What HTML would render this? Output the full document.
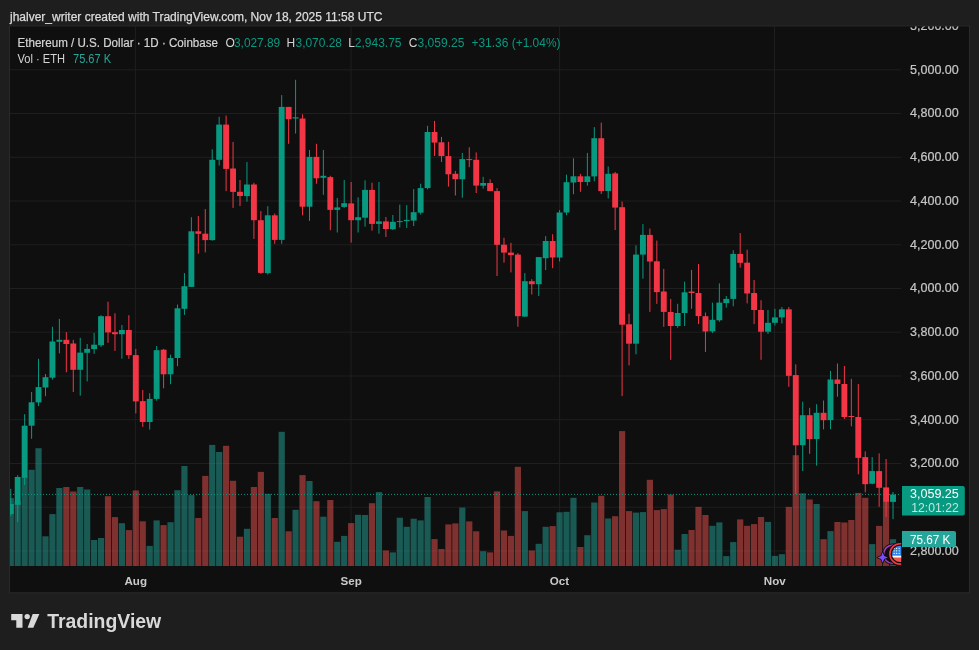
<!DOCTYPE html>
<html lang="en"><head><meta charset="utf-8"><title>ETHUSD chart</title>
<style>
html,body{margin:0;padding:0;background:#1e1e1e;}
body{width:979px;height:650px;overflow:hidden;position:relative;font-family:"Liberation Sans",sans-serif;}
svg{position:absolute;left:0;top:0;display:block}
svg text{font-family:"Liberation Sans",sans-serif;}
</style></head><body>
<svg width="979" height="650" viewBox="0 0 979 650">
<defs>
<clipPath id="plot"><rect x="10" y="26.4" width="891.2" height="539.6"/></clipPath>
<clipPath id="box"><rect x="10" y="26.4" width="959" height="566"/></clipPath>
</defs>
<rect x="0" y="0" width="979" height="650" fill="#1e1e1e"/>
<rect x="9.5" y="25.9" width="960" height="566.9" fill="#0f0f0f" stroke="#2a2a2a" stroke-width="1"/>
<g clip-path="url(#plot)">
<g stroke="#1f1f1f" stroke-width="1"><line x1="10" x2="901" y1="550.9" y2="550.9"/><line x1="10" x2="901" y1="507.2" y2="507.2"/><line x1="10" x2="901" y1="463.5" y2="463.5"/><line x1="10" x2="901" y1="419.7" y2="419.7"/><line x1="10" x2="901" y1="376.0" y2="376.0"/><line x1="10" x2="901" y1="332.2" y2="332.2"/><line x1="10" x2="901" y1="288.5" y2="288.5"/><line x1="10" x2="901" y1="244.8" y2="244.8"/><line x1="10" x2="901" y1="201.0" y2="201.0"/><line x1="10" x2="901" y1="157.3" y2="157.3"/><line x1="10" x2="901" y1="113.5" y2="113.5"/><line x1="10" x2="901" y1="69.8" y2="69.8"/><line x1="10" x2="901" y1="26.1" y2="26.1"/><line x1="135.4" x2="135.4" y1="26" y2="566"/><line x1="351.0" x2="351.0" y1="26" y2="566"/><line x1="559.6" x2="559.6" y1="26" y2="566"/><line x1="774.5" x2="774.5" y1="26" y2="566"/></g>
<g fill="#26a69a" fill-opacity="0.5"><rect x="7.65" y="498.1" width="6.2" height="67.9"/><rect x="14.60" y="501.6" width="6.2" height="64.4"/><rect x="21.55" y="476.5" width="6.2" height="89.5"/><rect x="28.50" y="469.8" width="6.2" height="96.2"/><rect x="35.44" y="448.2" width="6.2" height="117.8"/><rect x="42.39" y="536.3" width="6.2" height="29.7"/><rect x="49.34" y="514.1" width="6.2" height="51.9"/><rect x="56.28" y="488.0" width="6.2" height="78.0"/><rect x="77.12" y="487.0" width="6.2" height="79.0"/><rect x="84.07" y="489.5" width="6.2" height="76.5"/><rect x="91.02" y="540.0" width="6.2" height="26.0"/><rect x="97.97" y="538.0" width="6.2" height="28.0"/><rect x="118.81" y="523.2" width="6.2" height="42.8"/><rect x="146.59" y="545.9" width="6.2" height="20.1"/><rect x="153.54" y="520.4" width="6.2" height="45.6"/><rect x="167.44" y="522.2" width="6.2" height="43.8"/><rect x="174.38" y="490.2" width="6.2" height="75.8"/><rect x="181.33" y="466.0" width="6.2" height="100.0"/><rect x="188.28" y="495.1" width="6.2" height="70.9"/><rect x="209.12" y="444.9" width="6.2" height="121.1"/><rect x="216.06" y="452.0" width="6.2" height="114.0"/><rect x="243.85" y="528.8" width="6.2" height="37.2"/><rect x="264.69" y="493.8" width="6.2" height="72.2"/><rect x="278.59" y="431.8" width="6.2" height="134.2"/><rect x="292.48" y="509.8" width="6.2" height="56.2"/><rect x="306.38" y="481.0" width="6.2" height="85.0"/><rect x="320.27" y="516.7" width="6.2" height="49.3"/><rect x="334.16" y="541.8" width="6.2" height="24.2"/><rect x="341.11" y="535.9" width="6.2" height="30.1"/><rect x="355.00" y="514.8" width="6.2" height="51.2"/><rect x="361.95" y="515.0" width="6.2" height="51.0"/><rect x="375.85" y="492.1" width="6.2" height="73.9"/><rect x="389.74" y="552.4" width="6.2" height="13.6"/><rect x="396.69" y="517.7" width="6.2" height="48.3"/><rect x="403.63" y="526.8" width="6.2" height="39.2"/><rect x="410.58" y="518.7" width="6.2" height="47.3"/><rect x="417.53" y="520.4" width="6.2" height="45.6"/><rect x="424.47" y="497.0" width="6.2" height="69.0"/><rect x="459.21" y="507.6" width="6.2" height="58.4"/><rect x="480.05" y="551.2" width="6.2" height="14.8"/><rect x="521.73" y="511.1" width="6.2" height="54.9"/><rect x="535.63" y="543.8" width="6.2" height="22.2"/><rect x="542.57" y="526.8" width="6.2" height="39.2"/><rect x="556.47" y="512.3" width="6.2" height="53.7"/><rect x="563.41" y="511.8" width="6.2" height="54.2"/><rect x="570.36" y="497.8" width="6.2" height="68.2"/><rect x="584.25" y="535.2" width="6.2" height="30.8"/><rect x="591.20" y="502.5" width="6.2" height="63.5"/><rect x="605.10" y="518.5" width="6.2" height="47.5"/><rect x="632.88" y="512.6" width="6.2" height="53.4"/><rect x="639.83" y="512.1" width="6.2" height="53.9"/><rect x="674.57" y="549.7" width="6.2" height="16.3"/><rect x="681.51" y="534.0" width="6.2" height="32.0"/><rect x="709.30" y="525.8" width="6.2" height="40.2"/><rect x="716.25" y="522.4" width="6.2" height="43.6"/><rect x="723.20" y="556.1" width="6.2" height="9.9"/><rect x="730.14" y="542.1" width="6.2" height="23.9"/><rect x="764.88" y="521.9" width="6.2" height="44.1"/><rect x="771.82" y="555.9" width="6.2" height="10.1"/><rect x="778.77" y="554.2" width="6.2" height="11.8"/><rect x="799.61" y="493.4" width="6.2" height="72.6"/><rect x="813.51" y="504.0" width="6.2" height="62.0"/><rect x="827.40" y="531.1" width="6.2" height="34.9"/><rect x="869.08" y="544.1" width="6.2" height="21.9"/><rect x="889.92" y="539.2" width="6.2" height="26.8"/></g>
<g fill="#ef5350" fill-opacity="0.5"><rect x="63.23" y="487.0" width="6.2" height="79.0"/><rect x="70.18" y="491.5" width="6.2" height="74.5"/><rect x="104.91" y="496.2" width="6.2" height="69.8"/><rect x="111.86" y="517.1" width="6.2" height="48.9"/><rect x="125.75" y="530.1" width="6.2" height="35.9"/><rect x="132.70" y="490.5" width="6.2" height="75.5"/><rect x="139.65" y="521.3" width="6.2" height="44.7"/><rect x="160.49" y="525.1" width="6.2" height="40.9"/><rect x="195.22" y="518.0" width="6.2" height="48.0"/><rect x="202.17" y="475.9" width="6.2" height="90.1"/><rect x="223.01" y="445.8" width="6.2" height="120.2"/><rect x="229.96" y="480.8" width="6.2" height="85.2"/><rect x="236.91" y="536.7" width="6.2" height="29.3"/><rect x="250.80" y="487.0" width="6.2" height="79.0"/><rect x="257.75" y="471.9" width="6.2" height="94.1"/><rect x="271.64" y="518.0" width="6.2" height="48.0"/><rect x="285.53" y="531.3" width="6.2" height="34.7"/><rect x="299.43" y="475.1" width="6.2" height="90.9"/><rect x="313.32" y="501.2" width="6.2" height="64.8"/><rect x="327.22" y="500.0" width="6.2" height="66.0"/><rect x="348.06" y="523.1" width="6.2" height="42.9"/><rect x="368.90" y="503.2" width="6.2" height="62.8"/><rect x="382.79" y="550.5" width="6.2" height="15.5"/><rect x="431.42" y="539.1" width="6.2" height="26.9"/><rect x="438.37" y="549.0" width="6.2" height="17.0"/><rect x="445.31" y="524.4" width="6.2" height="41.6"/><rect x="452.26" y="523.4" width="6.2" height="42.6"/><rect x="466.16" y="521.4" width="6.2" height="44.6"/><rect x="473.10" y="531.3" width="6.2" height="34.7"/><rect x="487.00" y="552.4" width="6.2" height="13.6"/><rect x="493.94" y="491.4" width="6.2" height="74.6"/><rect x="500.89" y="530.5" width="6.2" height="35.5"/><rect x="507.84" y="535.9" width="6.2" height="30.1"/><rect x="514.78" y="466.8" width="6.2" height="99.2"/><rect x="528.68" y="550.5" width="6.2" height="15.5"/><rect x="549.52" y="526.1" width="6.2" height="39.9"/><rect x="577.31" y="547.0" width="6.2" height="19.0"/><rect x="598.15" y="495.8" width="6.2" height="70.2"/><rect x="612.04" y="516.2" width="6.2" height="49.8"/><rect x="618.99" y="431.1" width="6.2" height="134.9"/><rect x="625.94" y="511.1" width="6.2" height="54.9"/><rect x="646.78" y="479.8" width="6.2" height="86.2"/><rect x="653.73" y="510.1" width="6.2" height="55.9"/><rect x="660.67" y="509.1" width="6.2" height="56.9"/><rect x="667.62" y="494.6" width="6.2" height="71.4"/><rect x="688.46" y="530.0" width="6.2" height="36.0"/><rect x="695.41" y="506.9" width="6.2" height="59.1"/><rect x="702.35" y="515.0" width="6.2" height="51.0"/><rect x="737.09" y="519.4" width="6.2" height="46.6"/><rect x="744.04" y="525.8" width="6.2" height="40.2"/><rect x="750.98" y="524.1" width="6.2" height="41.9"/><rect x="757.93" y="517.0" width="6.2" height="49.0"/><rect x="785.72" y="506.9" width="6.2" height="59.1"/><rect x="792.67" y="455.2" width="6.2" height="110.8"/><rect x="806.56" y="499.5" width="6.2" height="66.5"/><rect x="820.45" y="539.2" width="6.2" height="26.8"/><rect x="834.35" y="522.0" width="6.2" height="44.0"/><rect x="841.29" y="522.5" width="6.2" height="43.5"/><rect x="848.24" y="520.0" width="6.2" height="46.0"/><rect x="855.19" y="492.9" width="6.2" height="73.1"/><rect x="862.14" y="497.8" width="6.2" height="68.2"/><rect x="876.03" y="525.9" width="6.2" height="40.1"/><rect x="882.98" y="502.0" width="6.2" height="64.0"/></g>
<line x1="10" x2="901" y1="494.4" y2="494.4" stroke="#089981" stroke-width="1" stroke-dasharray="1 2"/>
<g fill="#089981"><rect x="10.25" y="488.8" width="1" height="27.1"/><rect x="7.80" y="504.0" width="5.9" height="10.1"/><rect x="17.20" y="475.2" width="1" height="46.8"/><rect x="14.75" y="477.0" width="5.9" height="27.8"/><rect x="24.15" y="414.2" width="1" height="70.9"/><rect x="21.70" y="425.7" width="5.9" height="52.0"/><rect x="31.10" y="392.0" width="1" height="46.8"/><rect x="28.65" y="402.3" width="5.9" height="23.4"/><rect x="38.04" y="358.8" width="1" height="47.3"/><rect x="35.59" y="387.1" width="5.9" height="15.3"/><rect x="44.99" y="374.0" width="1" height="22.2"/><rect x="42.54" y="377.2" width="5.9" height="10.3"/><rect x="51.94" y="326.8" width="1" height="52.9"/><rect x="49.49" y="341.5" width="5.9" height="36.2"/><rect x="58.88" y="318.9" width="1" height="34.5"/><rect x="56.43" y="339.8" width="5.9" height="2.0"/><rect x="79.72" y="337.8" width="1" height="57.8"/><rect x="77.27" y="352.6" width="5.9" height="17.2"/><rect x="86.67" y="344.0" width="1" height="37.4"/><rect x="84.22" y="348.9" width="5.9" height="3.9"/><rect x="93.62" y="332.9" width="1" height="20.9"/><rect x="91.17" y="344.7" width="5.9" height="4.4"/><rect x="100.57" y="315.2" width="1" height="31.8"/><rect x="98.12" y="316.2" width="5.9" height="29.0"/><rect x="121.41" y="325.0" width="1" height="33.7"/><rect x="118.96" y="330.0" width="5.9" height="4.2"/><rect x="149.19" y="393.2" width="1" height="36.4"/><rect x="146.74" y="398.9" width="5.9" height="23.1"/><rect x="156.14" y="346.0" width="1" height="54.6"/><rect x="153.69" y="350.2" width="5.9" height="48.7"/><rect x="170.04" y="354.6" width="1" height="29.6"/><rect x="167.59" y="358.0" width="5.9" height="16.3"/><rect x="176.98" y="304.6" width="1" height="61.6"/><rect x="174.53" y="308.3" width="5.9" height="49.7"/><rect x="183.93" y="273.1" width="1" height="41.8"/><rect x="181.48" y="286.2" width="5.9" height="22.6"/><rect x="190.88" y="217.2" width="1" height="69.7"/><rect x="188.43" y="231.3" width="5.9" height="55.6"/><rect x="211.72" y="149.3" width="1" height="91.4"/><rect x="209.27" y="159.8" width="5.9" height="80.3"/><rect x="218.66" y="116.8" width="1" height="48.7"/><rect x="216.21" y="124.6" width="5.9" height="35.2"/><rect x="246.45" y="162.1" width="1" height="39.6"/><rect x="244.00" y="184.5" width="5.9" height="11.6"/><rect x="267.29" y="206.2" width="1" height="68.4"/><rect x="264.84" y="215.3" width="5.9" height="57.8"/><rect x="281.19" y="95.1" width="1" height="148.7"/><rect x="278.74" y="106.9" width="5.9" height="133.0"/><rect x="295.08" y="79.8" width="1" height="53.7"/><rect x="292.63" y="117.3" width="5.9" height="1.2"/><rect x="308.98" y="150.0" width="1" height="70.9"/><rect x="306.53" y="156.9" width="5.9" height="49.8"/><rect x="322.87" y="150.0" width="1" height="44.8"/><rect x="320.42" y="175.8" width="5.9" height="2.0"/><rect x="336.76" y="198.0" width="1" height="34.5"/><rect x="334.31" y="207.4" width="5.9" height="2.5"/><rect x="343.71" y="180.0" width="1" height="27.8"/><rect x="341.26" y="203.2" width="5.9" height="3.7"/><rect x="357.60" y="197.3" width="1" height="35.2"/><rect x="355.15" y="217.2" width="5.9" height="3.0"/><rect x="364.55" y="180.3" width="1" height="46.3"/><rect x="362.10" y="189.9" width="5.9" height="27.8"/><rect x="378.45" y="182.0" width="1" height="51.7"/><rect x="376.00" y="221.4" width="5.9" height="2.5"/><rect x="392.34" y="215.0" width="1" height="15.0"/><rect x="389.89" y="221.8" width="5.9" height="7.4"/><rect x="399.29" y="204.6" width="1" height="22.9"/><rect x="396.84" y="221.1" width="5.9" height="1.0"/><rect x="406.23" y="205.1" width="1" height="22.9"/><rect x="403.78" y="219.9" width="5.9" height="1.2"/><rect x="413.18" y="189.1" width="1" height="36.9"/><rect x="410.73" y="212.2" width="5.9" height="8.4"/><rect x="420.13" y="183.7" width="1" height="30.8"/><rect x="417.68" y="188.1" width="5.9" height="24.6"/><rect x="427.07" y="125.8" width="1" height="63.5"/><rect x="424.62" y="132.0" width="5.9" height="56.1"/><rect x="461.81" y="152.9" width="1" height="44.8"/><rect x="459.36" y="159.1" width="5.9" height="20.2"/><rect x="482.65" y="176.8" width="1" height="11.8"/><rect x="480.20" y="183.0" width="5.9" height="2.7"/><rect x="524.33" y="273.1" width="1" height="43.6"/><rect x="521.88" y="281.2" width="5.9" height="35.4"/><rect x="538.23" y="257.1" width="1" height="38.9"/><rect x="535.78" y="257.1" width="5.9" height="27.1"/><rect x="545.17" y="236.1" width="1" height="34.0"/><rect x="542.72" y="241.0" width="5.9" height="17.2"/><rect x="559.07" y="210.0" width="1" height="51.5"/><rect x="556.62" y="212.5" width="5.9" height="45.0"/><rect x="566.01" y="174.6" width="1" height="40.6"/><rect x="563.56" y="182.2" width="5.9" height="30.3"/><rect x="572.96" y="158.3" width="1" height="35.9"/><rect x="570.51" y="176.3" width="5.9" height="6.2"/><rect x="586.86" y="152.9" width="1" height="32.7"/><rect x="584.40" y="176.3" width="5.9" height="5.7"/><rect x="593.80" y="127.1" width="1" height="54.2"/><rect x="591.35" y="138.2" width="5.9" height="38.2"/><rect x="607.70" y="166.5" width="1" height="32.0"/><rect x="605.25" y="173.8" width="5.9" height="17.2"/><rect x="635.48" y="245.3" width="1" height="109.0"/><rect x="633.03" y="254.6" width="5.9" height="89.1"/><rect x="642.43" y="224.1" width="1" height="54.6"/><rect x="639.98" y="234.9" width="5.9" height="19.7"/><rect x="677.17" y="303.8" width="1" height="23.9"/><rect x="674.72" y="313.0" width="5.9" height="13.0"/><rect x="684.11" y="281.7" width="1" height="44.3"/><rect x="681.66" y="292.3" width="5.9" height="20.7"/><rect x="711.90" y="302.6" width="1" height="30.3"/><rect x="709.45" y="319.8" width="5.9" height="11.6"/><rect x="718.85" y="283.4" width="1" height="38.4"/><rect x="716.40" y="302.6" width="5.9" height="17.7"/><rect x="725.80" y="296.0" width="1" height="11.6"/><rect x="723.35" y="298.9" width="5.9" height="4.2"/><rect x="732.74" y="250.2" width="1" height="56.1"/><rect x="730.29" y="253.9" width="5.9" height="45.0"/><rect x="767.48" y="310.0" width="1" height="23.9"/><rect x="765.03" y="322.8" width="5.9" height="8.9"/><rect x="774.42" y="308.8" width="1" height="16.7"/><rect x="771.97" y="317.4" width="5.9" height="5.4"/><rect x="781.37" y="307.0" width="1" height="16.5"/><rect x="778.92" y="309.3" width="5.9" height="8.1"/><rect x="802.21" y="401.7" width="1" height="69.4"/><rect x="799.76" y="415.2" width="5.9" height="30.0"/><rect x="816.11" y="404.2" width="1" height="61.5"/><rect x="813.66" y="412.8" width="5.9" height="26.3"/><rect x="830.00" y="370.9" width="1" height="58.3"/><rect x="827.55" y="379.5" width="5.9" height="40.6"/><rect x="871.68" y="457.1" width="1" height="27.1"/><rect x="869.23" y="471.1" width="5.9" height="12.6"/><rect x="892.52" y="492.0" width="1" height="27.2"/><rect x="890.07" y="494.5" width="5.9" height="7.4"/></g>
<g fill="#f23645"><rect x="65.83" y="332.2" width="1" height="40.1"/><rect x="63.38" y="339.8" width="5.9" height="4.2"/><rect x="72.78" y="339.8" width="1" height="52.2"/><rect x="70.33" y="343.5" width="5.9" height="26.3"/><rect x="107.51" y="301.7" width="1" height="41.1"/><rect x="105.06" y="316.2" width="5.9" height="16.2"/><rect x="114.46" y="313.2" width="1" height="37.7"/><rect x="112.01" y="332.2" width="5.9" height="2.0"/><rect x="128.35" y="315.2" width="1" height="43.6"/><rect x="125.90" y="330.0" width="5.9" height="25.1"/><rect x="135.30" y="348.9" width="1" height="64.5"/><rect x="132.85" y="355.1" width="5.9" height="46.3"/><rect x="142.25" y="390.0" width="1" height="36.9"/><rect x="139.80" y="401.1" width="5.9" height="20.9"/><rect x="163.09" y="348.9" width="1" height="39.4"/><rect x="160.64" y="349.7" width="5.9" height="24.6"/><rect x="197.82" y="216.0" width="1" height="37.7"/><rect x="195.37" y="231.3" width="5.9" height="2.5"/><rect x="204.77" y="209.1" width="1" height="43.3"/><rect x="202.32" y="233.7" width="5.9" height="6.4"/><rect x="225.61" y="115.5" width="1" height="75.6"/><rect x="223.16" y="124.6" width="5.9" height="44.3"/><rect x="232.56" y="141.9" width="1" height="66.0"/><rect x="230.11" y="168.5" width="5.9" height="23.4"/><rect x="239.50" y="180.0" width="1" height="26.1"/><rect x="237.06" y="191.8" width="5.9" height="4.2"/><rect x="253.40" y="182.7" width="1" height="56.2"/><rect x="250.95" y="184.5" width="5.9" height="35.7"/><rect x="260.35" y="211.1" width="1" height="62.8"/><rect x="257.90" y="220.2" width="5.9" height="52.7"/><rect x="274.24" y="213.5" width="1" height="30.3"/><rect x="271.79" y="215.3" width="5.9" height="24.6"/><rect x="288.13" y="106.9" width="1" height="36.9"/><rect x="285.68" y="106.9" width="5.9" height="12.3"/><rect x="302.03" y="114.3" width="1" height="101.0"/><rect x="299.58" y="118.5" width="5.9" height="88.2"/><rect x="315.92" y="143.8" width="1" height="39.9"/><rect x="313.47" y="156.9" width="5.9" height="21.4"/><rect x="329.82" y="175.8" width="1" height="54.4"/><rect x="327.37" y="177.1" width="5.9" height="32.8"/><rect x="350.66" y="182.0" width="1" height="60.6"/><rect x="348.21" y="203.4" width="5.9" height="16.8"/><rect x="371.50" y="182.7" width="1" height="48.0"/><rect x="369.05" y="189.9" width="5.9" height="34.0"/><rect x="385.39" y="217.0" width="1" height="20.0"/><rect x="382.94" y="221.4" width="5.9" height="7.6"/><rect x="434.02" y="120.9" width="1" height="35.0"/><rect x="431.57" y="132.0" width="5.9" height="10.6"/><rect x="440.97" y="136.9" width="1" height="25.1"/><rect x="438.52" y="142.3" width="5.9" height="13.8"/><rect x="447.92" y="141.8" width="1" height="44.8"/><rect x="445.47" y="156.1" width="5.9" height="18.2"/><rect x="454.86" y="170.9" width="1" height="24.6"/><rect x="452.41" y="173.8" width="5.9" height="5.4"/><rect x="468.76" y="147.3" width="1" height="19.9"/><rect x="466.31" y="159.1" width="5.9" height="1.0"/><rect x="475.70" y="152.4" width="1" height="40.6"/><rect x="473.25" y="159.8" width="5.9" height="25.8"/><rect x="489.60" y="179.3" width="1" height="11.8"/><rect x="487.15" y="183.0" width="5.9" height="8.1"/><rect x="496.54" y="188.1" width="1" height="87.9"/><rect x="494.09" y="191.1" width="5.9" height="53.7"/><rect x="503.49" y="237.8" width="1" height="24.9"/><rect x="501.04" y="244.7" width="5.9" height="7.9"/><rect x="510.44" y="242.8" width="1" height="29.6"/><rect x="507.99" y="252.6" width="5.9" height="2.5"/><rect x="517.38" y="253.1" width="1" height="73.6"/><rect x="514.93" y="254.6" width="5.9" height="61.6"/><rect x="531.28" y="279.2" width="1" height="15.3"/><rect x="528.83" y="281.2" width="5.9" height="3.0"/><rect x="552.12" y="234.2" width="1" height="34.0"/><rect x="549.67" y="241.0" width="5.9" height="16.5"/><rect x="579.91" y="173.8" width="1" height="18.0"/><rect x="577.46" y="176.3" width="5.9" height="5.7"/><rect x="600.75" y="122.6" width="1" height="71.4"/><rect x="598.30" y="138.2" width="5.9" height="52.9"/><rect x="614.64" y="171.9" width="1" height="58.1"/><rect x="612.19" y="173.4" width="5.9" height="34.2"/><rect x="621.59" y="201.6" width="1" height="194.5"/><rect x="619.14" y="207.2" width="5.9" height="117.5"/><rect x="628.54" y="313.7" width="1" height="51.7"/><rect x="626.09" y="324.3" width="5.9" height="19.4"/><rect x="649.38" y="228.5" width="1" height="83.4"/><rect x="646.93" y="234.9" width="5.9" height="26.6"/><rect x="656.33" y="240.6" width="1" height="63.3"/><rect x="653.88" y="261.3" width="5.9" height="30.8"/><rect x="663.27" y="268.9" width="1" height="57.8"/><rect x="660.82" y="291.5" width="5.9" height="20.4"/><rect x="670.22" y="298.9" width="1" height="61.0"/><rect x="667.77" y="312.0" width="5.9" height="14.0"/><rect x="691.06" y="269.9" width="1" height="38.9"/><rect x="688.61" y="291.5" width="5.9" height="1.5"/><rect x="698.01" y="264.0" width="1" height="60.1"/><rect x="695.56" y="293.0" width="5.9" height="23.1"/><rect x="704.95" y="312.5" width="1" height="39.4"/><rect x="702.50" y="316.2" width="5.9" height="15.3"/><rect x="739.69" y="233.0" width="1" height="34.7"/><rect x="737.24" y="253.9" width="5.9" height="8.9"/><rect x="746.64" y="249.7" width="1" height="53.7"/><rect x="744.19" y="262.7" width="5.9" height="30.8"/><rect x="753.58" y="280.0" width="1" height="44.1"/><rect x="751.13" y="293.0" width="5.9" height="17.0"/><rect x="760.53" y="300.2" width="1" height="59.6"/><rect x="758.08" y="310.0" width="5.9" height="21.7"/><rect x="788.32" y="307.0" width="1" height="79.8"/><rect x="785.87" y="309.3" width="5.9" height="66.5"/><rect x="795.27" y="364.3" width="1" height="129.7"/><rect x="792.82" y="375.1" width="5.9" height="70.2"/><rect x="809.16" y="407.8" width="1" height="46.0"/><rect x="806.71" y="415.2" width="5.9" height="23.9"/><rect x="823.05" y="400.5" width="1" height="28.8"/><rect x="820.60" y="412.8" width="5.9" height="7.4"/><rect x="836.95" y="363.5" width="1" height="33.2"/><rect x="834.50" y="379.5" width="5.9" height="4.4"/><rect x="843.89" y="366.0" width="1" height="52.9"/><rect x="841.44" y="384.0" width="5.9" height="33.0"/><rect x="850.84" y="378.8" width="1" height="47.5"/><rect x="848.39" y="416.0" width="5.9" height="1.0"/><rect x="857.79" y="384.0" width="1" height="90.3"/><rect x="855.34" y="417.0" width="5.9" height="40.9"/><rect x="864.74" y="451.4" width="1" height="40.9"/><rect x="862.29" y="457.1" width="5.9" height="27.1"/><rect x="878.63" y="453.4" width="1" height="53.4"/><rect x="876.18" y="471.1" width="5.9" height="16.7"/><rect x="885.58" y="459.0" width="1" height="58.0"/><rect x="883.13" y="487.4" width="5.9" height="14.5"/></g>
</g>
<g clip-path="url(#box)" font-size="12" fill="#c6c6c6" stroke="#c6c6c6" stroke-width="0.2"><text x="910" y="554.7" textLength="48.8" lengthAdjust="spacingAndGlyphs">2,800.00</text><text x="910" y="511.0" textLength="48.8" lengthAdjust="spacingAndGlyphs">3,000.00</text><text x="910" y="467.3" textLength="48.8" lengthAdjust="spacingAndGlyphs">3,200.00</text><text x="910" y="423.5" textLength="48.8" lengthAdjust="spacingAndGlyphs">3,400.00</text><text x="910" y="379.8" textLength="48.8" lengthAdjust="spacingAndGlyphs">3,600.00</text><text x="910" y="336.0" textLength="48.8" lengthAdjust="spacingAndGlyphs">3,800.00</text><text x="910" y="292.3" textLength="48.8" lengthAdjust="spacingAndGlyphs">4,000.00</text><text x="910" y="248.6" textLength="48.8" lengthAdjust="spacingAndGlyphs">4,200.00</text><text x="910" y="204.8" textLength="48.8" lengthAdjust="spacingAndGlyphs">4,400.00</text><text x="910" y="161.1" textLength="48.8" lengthAdjust="spacingAndGlyphs">4,600.00</text><text x="910" y="117.3" textLength="48.8" lengthAdjust="spacingAndGlyphs">4,800.00</text><text x="910" y="73.6" textLength="48.8" lengthAdjust="spacingAndGlyphs">5,000.00</text><text x="910" y="29.9" textLength="48.8" lengthAdjust="spacingAndGlyphs">5,200.00</text></g>
<g font-size="12" font-weight="bold" fill="#c9c9c9"><text x="135.7" y="584.5" text-anchor="middle" font-size="11.6">Aug</text><text x="351.1" y="584.5" text-anchor="middle" font-size="11.6">Sep</text><text x="559.5" y="584.5" text-anchor="middle" font-size="11.6">Oct</text><text x="774.8" y="584.5" text-anchor="middle" font-size="11.6">Nov</text></g>
<!-- last price label -->
<path d="M902 485.9 H962.8 a2 2 0 0 1 2 2 V513.6 a2 2 0 0 1 -2 2 H902 Z" fill="#089981"/>
<text x="910" y="498.2" textLength="48.8" lengthAdjust="spacingAndGlyphs" font-size="12" fill="#ffffff">3,059.25</text>
<text x="911.3" y="511.9" textLength="47.5" lengthAdjust="spacingAndGlyphs" font-size="12" fill="#c2e5de">12:01:22</text>
<!-- volume label -->
<path d="M902 531 H954 a2 2 0 0 1 2 2 V545.1 a2 2 0 0 1 -2 2 H902 Z" fill="#26a69a"/>
<text x="910" y="544" textLength="40.4" lengthAdjust="spacingAndGlyphs" font-size="12" fill="#ffffff">75.67 K</text>
<!-- event icons -->
<g clip-path="url(#plot)">
<circle cx="892.9" cy="554.2" r="10.8" fill="#0f0f0f"/>
<circle cx="892.9" cy="554.2" r="9.3" fill="none" stroke="#a03fc0" stroke-width="1.5"/>
<path d="M882.65 552.30 L884.10 556.05 L887.85 557.50 L884.10 558.95 L882.65 562.70 L881.20 558.95 L877.45 557.50 L881.20 556.05 Z" fill="#7c4dff" stroke="#0f0f0f" stroke-width="1.6" paint-order="stroke" stroke-linejoin="round"/>
<circle cx="900.1" cy="553.9" r="12" fill="#0f0f0f"/>
<circle cx="900.1" cy="553.9" r="10.2" fill="none" stroke="#f23645" stroke-width="1.6"/>
<clipPath id="flag"><circle cx="900.1" cy="553.9" r="8.1"/></clipPath>
<g clip-path="url(#flag)">
<rect x="891" y="545" width="12" height="10.5" fill="#2f86e6"/>
<g fill="#ffffff"><circle cx="894.2" cy="548.3" r="0.6"/><circle cx="896.6" cy="548.3" r="0.6"/><circle cx="899.2" cy="548.3" r="0.6"/><circle cx="894.2" cy="550.8" r="0.6"/><circle cx="896.6" cy="550.8" r="0.6"/><circle cx="899.2" cy="550.8" r="0.6"/><circle cx="894.2" cy="553.4" r="0.6"/><circle cx="896.6" cy="553.4" r="0.6"/><circle cx="899.2" cy="553.4" r="0.6"/></g>
<rect x="891" y="555.5" width="12" height="2.3" fill="#ffffff"/>
<rect x="891" y="557.8" width="12" height="5" fill="#ef5350"/>
</g>
</g>
<!-- header -->
<text x="10" y="20.8" font-size="12" fill="#dcdcdc" stroke="#dcdcdc" stroke-width="0.25">jhalver_writer created with TradingView.com, Nov 18, 2025 11:58 UTC</text>
<text x="17.5" y="47" textLength="200.5" lengthAdjust="spacingAndGlyphs" font-size="12" fill="#d4d4d4" stroke="#d4d4d4" stroke-width="0.2">Ethereum / U.S. Dollar · 1D · Coinbase</text>
<g font-size="12" fill="#d4d4d4" stroke-width="0.2">
<text x="225.5" y="47">O</text><text x="286.5" y="47">H</text><text x="348.3" y="47">L</text><text x="408.8" y="47">C</text>
<g fill="#089981">
<text x="234" y="47" textLength="46.2" lengthAdjust="spacingAndGlyphs">3,027.89</text>
<text x="295.5" y="47" textLength="46.5" lengthAdjust="spacingAndGlyphs">3,070.28</text>
<text x="354.8" y="47" textLength="46.7" lengthAdjust="spacingAndGlyphs">2,943.75</text>
<text x="417.5" y="47" textLength="47" lengthAdjust="spacingAndGlyphs">3,059.25</text>
<text x="471.5" y="47" textLength="89" lengthAdjust="spacingAndGlyphs">+31.36 (+1.04%)</text>
</g>
<text x="17.5" y="63" textLength="47.5" lengthAdjust="spacingAndGlyphs">Vol · ETH</text>
<text x="73" y="63" textLength="38" lengthAdjust="spacingAndGlyphs" fill="#26a69a">75.67 K</text>
</g>
<!-- logo -->
<g fill="#d9d9d9">
<path d="M11.2 613.9 H22.5 V627.8 H16.3 V620.2 H11.2 Z"/>
<circle cx="27.2" cy="616.6" r="2.7"/>
<path d="M32.7 613.9 H39.4 L33.3 627.8 H27.6 Z"/>
<text x="47.2" y="627.8" font-size="19.6" textLength="114" lengthAdjust="spacingAndGlyphs" font-weight="bold">TradingView</text>
</g>
</svg>
</body></html>
